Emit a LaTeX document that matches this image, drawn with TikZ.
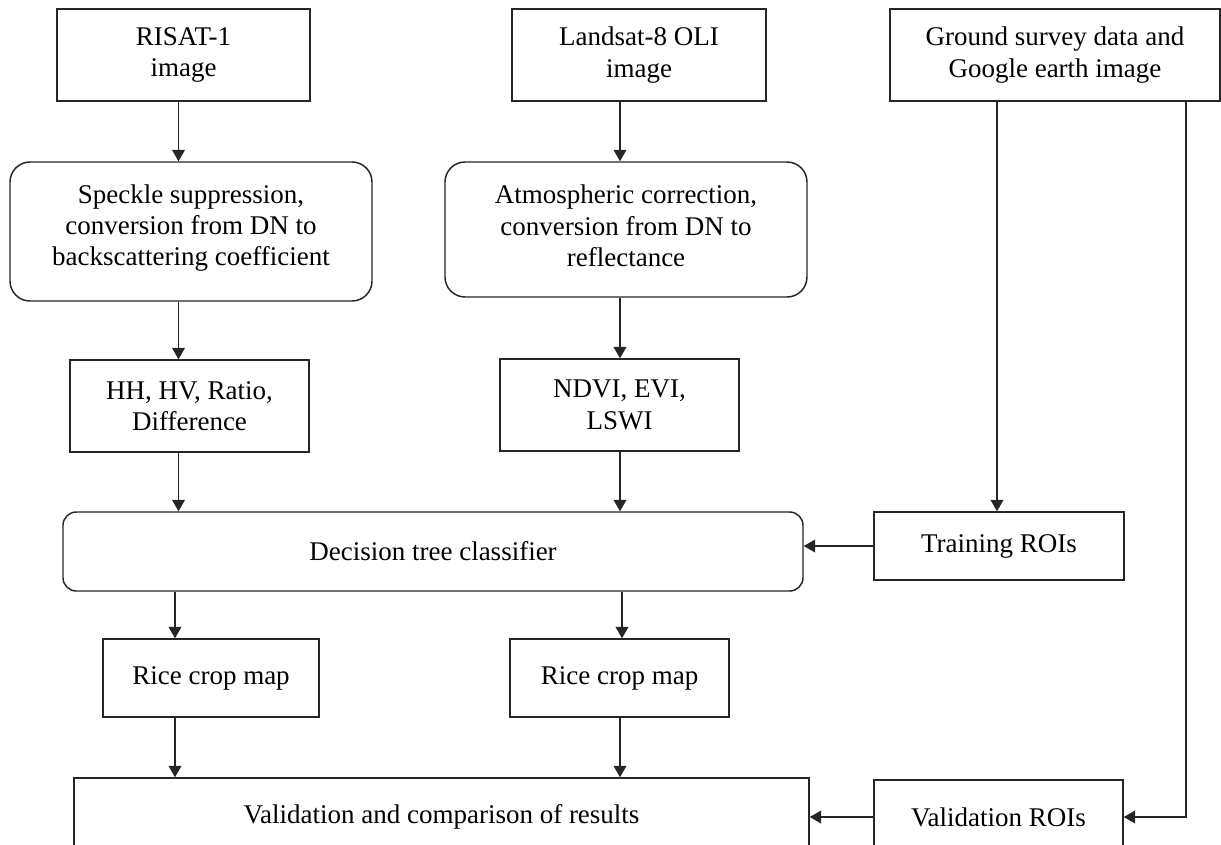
\documentclass[tikz,border=0pt]{standalone}
\usepackage{fontspec}
\setmainfont{Liberation Serif}
\usetikzlibrary{arrows.meta,calc}
\begin{document}
\begin{tikzpicture}[x=0.75pt,y=-0.75pt,
  box/.style={draw=black!85,line width=1.1pt,align=center,inner sep=0pt,font=\fontsize{20.25}{23.5}\selectfont},
  rbox/.style={box,rounded corners=15pt},
  arr/.style={draw=black!85,line width=1.1pt,-{Triangle[length=8.5pt,width=9.5pt]}},
  ln/.style={draw=black!85,line width=1.1pt}]
\useasboundingbox (0,0) rectangle (1221,844);
\clip (0,0) rectangle (1221,844);
\fill[white] (0,0) rectangle (1221,844);
% columns
\coordinate (colA) at (178.5,0);
\coordinate (colR) at (175,0);
\coordinate (colB) at (620,0);
\coordinate (colB2) at (622,0);
\coordinate (g1) at (997,0);
\coordinate (g2) at (1186,0);
% nodes
\node[box,minimum width=253*0.75pt,minimum height=92*0.75pt] (risat) at (183.5,55) {RISAT-1\\image};
\node[rbox,minimum width=362*0.75pt,minimum height=139*0.75pt] (speckle) at (191,231.5) {Speckle suppression,\\conversion from DN to\\backscattering coefficient\\[-13.7pt]\mbox{}};
\node[box,minimum width=254*0.75pt,minimum height=92*0.75pt] (landsat) at (639,55) {Landsat-8 OLI\\image};
\node[rbox,minimum width=362*0.75pt,minimum height=135*0.75pt] (atmos) at (626,229.5) {Atmospheric correction,\\conversion from DN to\\reflectance\\[-18pt]\mbox{}};
\node[box,minimum width=330*0.75pt,minimum height=92*0.75pt] (ground) at (1055,55) {Ground survey data and\\Google earth image};
\node[box,minimum width=239*0.75pt,minimum height=92*0.75pt] (hh) at (189.5,406) {HH, HV, Ratio,\\Difference};
\node[box,minimum width=239*0.75pt,minimum height=92*0.75pt] (ndvi) at (619.5,405) {NDVI, EVI,\\LSWI};
\node[box,rounded corners=10pt,minimum width=740*0.75pt,minimum height=79*0.75pt] (decision) at (433,551.5) {Decision tree classifier};
\node[box,minimum width=250*0.75pt,minimum height=68*0.75pt] (training) at (999,546) {Training ROIs};
\node[box,minimum width=216*0.75pt,minimum height=78*0.75pt] (rice1) at (211,678) {Rice crop map};
\node[box,minimum width=219*0.75pt,minimum height=78*0.75pt] (rice2) at (619.5,678) {Rice crop map};
\node[box,minimum width=735*0.75pt,minimum height=78*0.75pt] (valid) at (441.5,817) {Validation and comparison of results};
\node[box,minimum width=249*0.75pt,minimum height=74*0.75pt] (valroi) at (998.5,817) {Validation ROIs};
% connectors
\draw[arr] (risat.south -| colA) -- (speckle.north -| colA);
\draw[arr] (speckle.south -| colA) -- (hh.north -| colA);
\draw[arr] (hh.south -| colA) -- (decision.north -| colA);
\draw[arr] (landsat.south -| colB) -- (atmos.north -| colB);
\draw[arr] (atmos.south -| colB) -- (ndvi.north -| colB);
\draw[arr] (ndvi.south -| colB) -- (decision.north -| colB);
\draw[arr] (decision.south -| colR) -- (rice1.north -| colR);
\draw[arr] (rice1.south -| colR) -- (valid.north -| colR);
\draw[arr] (decision.south -| colB2) -- (rice2.north -| colB2);
\draw[arr] (rice2.south -| colB) -- (valid.north -| colB);
\draw[arr] (ground.south -| g1) -- (training.north -| g1);
\draw[arr] (ground.south -| g2) |- (valroi.east);
\draw[arr] (training.west) -- (training.west -| decision.east);
\draw[arr] (valroi.west) -- (valroi.west -| valid.east);
\end{tikzpicture}
\end{document}
